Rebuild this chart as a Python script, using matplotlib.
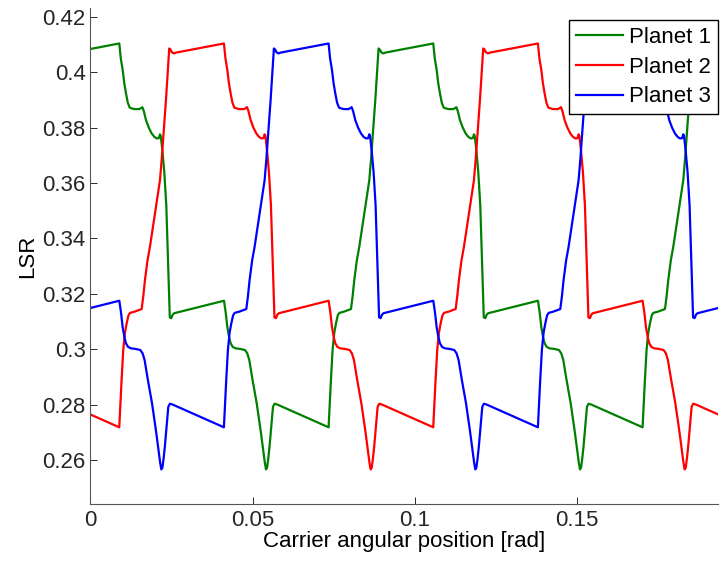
import numpy as np
import matplotlib
matplotlib.use("Agg")
import matplotlib.pyplot as plt

plt.rcParams['font.family'] = ['Liberation Sans', 'DejaVu Sans']

# One period of the load sharing ratio.
# Positions are in mrad measured from the end of the high plateau.
PERIOD_MRAD = 96.73
TEMPLATE_MRAD = [
    0.00, 0.46, 1.05, 1.54, 2.06, 2.62, 3.23, 4.62, 6.16, 6.90, 7.09, 7.55,
    8.23, 9.09, 9.98, 10.78, 11.52, 12.17, 12.54, 12.78, 13.25, 13.86, 14.48,
    15.10, 15.56, 16.02, 16.48, 16.94,
    32.26, 32.81, 33.27, 33.89, 34.32, 34.97, 35.86, 37.28, 38.72, 39.43,
    40.05, 40.97, 42.33, 43.56, 44.36, 44.82, 45.19, 45.53, 45.90, 46.30,
    46.83, 47.35, 47.84, 48.21, 48.89,
    64.48, 65.16, 65.71, 66.24, 66.76, 67.31, 67.78, 69.32, 71.38, 71.87,
    72.40, 73.17, 73.94, 74.71, 75.48, 76.25, 77.02, 77.54, 78.25, 78.87,
    79.48, 79.88, 80.25, 80.71, 81.33, 81.95,
]
TEMPLATE_LSR = [
    0.4104, 0.4050, 0.4008, 0.3960, 0.3924, 0.3890, 0.3872, 0.3867, 0.3867,
    0.3872, 0.3874, 0.3860, 0.3827, 0.3800, 0.3779, 0.3767, 0.3761, 0.3762,
    0.3776, 0.3770, 0.3720, 0.3640, 0.3520, 0.3280, 0.3115, 0.3112, 0.3125,
    0.3130,
    0.3175, 0.3130, 0.3081, 0.3040, 0.3021, 0.3008, 0.3003, 0.3001, 0.2997,
    0.2985, 0.2961, 0.2895, 0.2805, 0.2705, 0.2635, 0.2592, 0.2566, 0.2572,
    0.2605, 0.2650, 0.2720, 0.2792, 0.2803, 0.2802, 0.2799,
    0.2718, 0.2880, 0.2997, 0.3060, 0.3093, 0.3122, 0.3131, 0.3136, 0.3145,
    0.3190, 0.3250, 0.3320, 0.3370, 0.3430, 0.3490, 0.3550, 0.3610, 0.3683,
    0.3800, 0.3900, 0.4010, 0.4086, 0.4082, 0.4072, 0.4068, 0.4071,
]

planets = ['Planet 1', 'Planet 2', 'Planet 3']
phase_mrad = [8.90, 41.14, 73.38]
colors = ['#008000', '#ff0000', '#0000ff']

xticks = [0, 0.05, 0.1, 0.15]
xticklabels = ['0', '0.05', '0.1', '0.15']
yticks = [0.26, 0.28, 0.30, 0.32, 0.34, 0.36, 0.38, 0.40, 0.42]
yticklabels = ['0.26', '0.28', '0.3', '0.32', '0.34', '0.36', '0.38', '0.4', '0.42']

FS = 16

fig = plt.figure(figsize=(7.22, 5.63), dpi=100)
ax = fig.add_axes([90.4 / 722, 59 / 563, 627.9 / 722, 495.7 / 563])

pos = np.array(TEMPLATE_MRAD)
lsr = np.array(TEMPLATE_LSR)
for name, ph, c in zip(planets, phase_mrad, colors):
    xs, ys = [], []
    for k in range(-1, 3):
        xs.append((pos + ph + k * PERIOD_MRAD) / 1000.0)
        ys.append(lsr)
    ax.plot(np.concatenate(xs), np.concatenate(ys), color=c, lw=1.6,
            label=name, solid_joinstyle='round')

ax.set_xlim(0, 0.19344)
ax.set_ylim(0.2441, 0.4231)
ax.set_xticks(xticks)
ax.set_xticklabels(xticklabels)
ax.set_yticks(yticks)
ax.set_yticklabels(yticklabels)
ax.tick_params(direction='in', length=5, width=0.7, labelsize=FS,
               colors='#262626', pad=4)
ax.tick_params(axis='y', pad=3.5)
for s in ['top', 'right']:
    ax.spines[s].set_visible(False)
for s in ['left', 'bottom']:
    ax.spines[s].set_color('#555555')
    ax.spines[s].set_linewidth(0.8)

ax.set_xlabel('Carrier angular position [rad]', fontsize=FS, labelpad=0)
ax.set_ylabel('LSR', fontsize=FS, labelpad=3)

leg = ax.legend(loc='upper left', bbox_to_anchor=(569.3 / 722, 1 - 20 / 563),
                bbox_transform=fig.transFigure, borderaxespad=0,
                fontsize=FS, fancybox=False, framealpha=1, edgecolor='black',
                handlelength=2.1, handletextpad=0.3, borderpad=0.3,
                labelspacing=0.4)
leg.get_frame().set_linewidth(1.0)

fig.savefig('out.png', dpi=100)
